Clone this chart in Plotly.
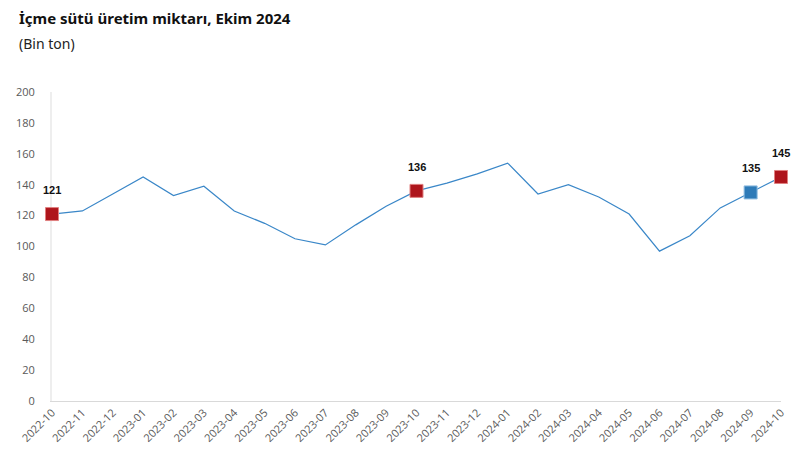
import plotly.graph_objects as go

months = ["2022-10","2022-11","2022-12","2023-01","2023-02","2023-03","2023-04","2023-05",
          "2023-06","2023-07","2023-08","2023-09","2023-10","2023-11","2023-12","2024-01",
          "2024-02","2024-03","2024-04","2024-05","2024-06","2024-07","2024-08","2024-09","2024-10"]
values = [121,123,134,145,133,139,123,115,105,101,114,126,136,141,147,154,
          134,140,132,121,97,107,125,135,145]

red_idx = [0, 12, 24]
blue_idx = [23]
y_ticks = [0,20,40,60,80,100,120,140,160,180,200]

W, H = 809, 474
ML, MR, MT, MB = 52, 28, 92, 73
plot_w = W - ML - MR
plot_h = H - MT - MB

def px_x(px):
    return (px - ML) / plot_w

def px_y(py):
    return (H - py - MB) / plot_h

fig = go.Figure()
fig.add_trace(go.Scatter(x=months, y=values, mode="lines",
                         line=dict(color="#3A87C8", width=1.2), hoverinfo="x+y"))
for idx, col, edge in [(red_idx, "#AE151C", "#E08080"), (blue_idx, "#2E7BB8", "#8FBCE0")]:
    fig.add_trace(go.Scatter(x=[months[i] for i in idx], y=[values[i] for i in idx],
                             mode="markers",
                             marker=dict(symbol="square", size=13, color=col,
                                         line=dict(color=edge, width=1)),
                             cliponaxis=False))

annotations = [
    dict(text="<b>İçme sütü üretim miktarı, Ekim 2024</b>", x=px_x(17), y=px_y(18),
         xref="paper", yref="paper", showarrow=False,
         font=dict(size=15, color="#111111", family="Noto Sans, Open Sans, sans-serif"),
         xanchor="left", yanchor="middle"),
    dict(text="(Bin ton)", x=px_x(17), y=px_y(43), xref="paper", yref="paper",
         showarrow=False,
         font=dict(size=14, color="#222222", family="Noto Sans, Open Sans, sans-serif"),
         xanchor="left", yanchor="middle"),
]
for i in red_idx + blue_idx:
    annotations.append(dict(text=f"<b>{values[i]}</b>", x=months[i], y=values[i],
                            xref="x", yref="y", showarrow=False, yshift=24,
                            xanchor="center", yanchor="middle",
                            font=dict(family="Liberation Sans, Arial", size=11, color="#111111")))

fig.update_layout(
    width=W, height=H,
    margin=dict(l=ML, r=MR, t=MT, b=MB),
    paper_bgcolor="white", plot_bgcolor="white",
    showlegend=False,
    font=dict(family="Open Sans, Noto Sans, sans-serif", color="#595959", size=11),
    annotations=annotations,
)

fig.update_xaxes(type="category", range=[0, 24], tickangle=-45, showgrid=False,
                 showline=True, linecolor="#D9D9D9", linewidth=1, ticks="",
                 tickfont=dict(size=11, color="#595959"), zeroline=False,
                 layer="below traces")
fig.update_yaxes(range=[0, 200], tickvals=y_ticks, showgrid=False, showline=True,
                 linecolor="#EEEEEE", linewidth=2, ticks="", zeroline=False,
                 tickfont=dict(size=11, color="#595959"), ticklabelstandoff=13,
                 layer="below traces")

fig.write_html("out.html")
